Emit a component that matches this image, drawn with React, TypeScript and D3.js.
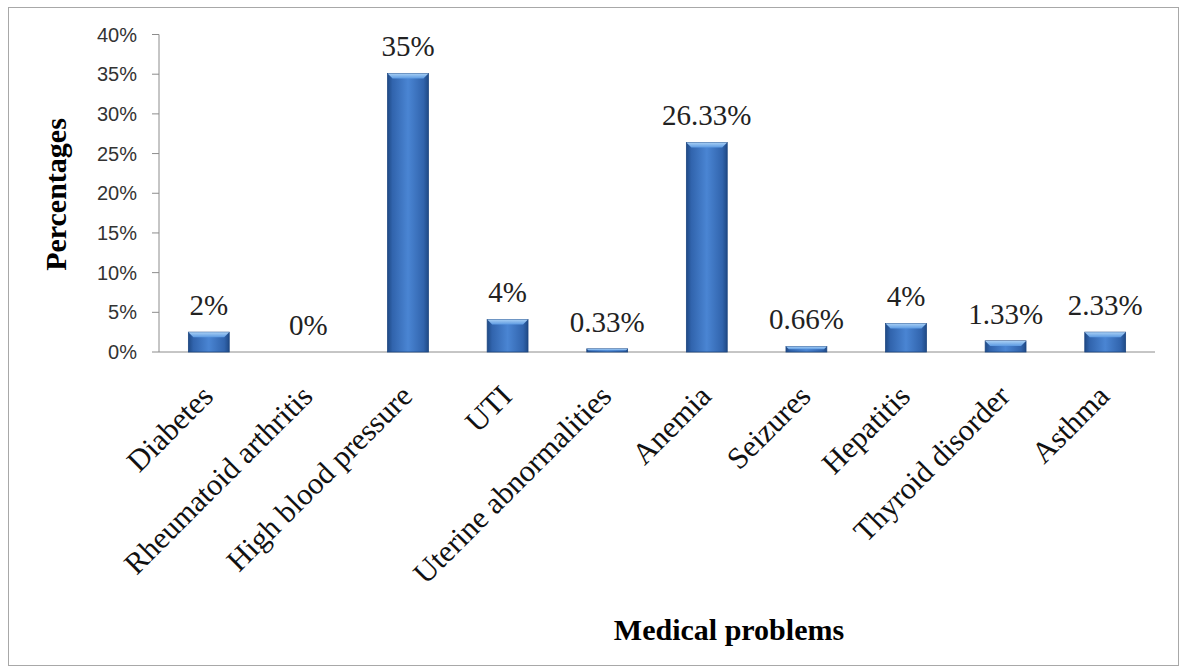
import React from "react";
import * as d3 from "d3";

const categories = [
  "Diabetes",
  "Rheumatoid arthritis",
  "High blood pressure",
  "UTI",
  "Uterine abnormalities",
  "Anemia",
  "Seizures",
  "Hepatitis",
  "Thyroid disorder",
  "Asthma",
];
// bar heights as drawn (fractions)
const barValues = [0.025, 0, 0.351, 0.041, 0.004, 0.264, 0.007, 0.036, 0.014, 0.025];
// data labels as printed
const valueLabels = ["2%", "0%", "35%", "4%", "0.33%", "26.33%", "0.66%", "4%", "1.33%", "2.33%"];
const yTicks = [0, 0.05, 0.1, 0.15, 0.2, 0.25, 0.3, 0.35, 0.4];

const W = 1181;
const H = 667;
const plotLeft = 159;
const plotRight = 1155;
const plotTop = 34.5;
const plotBottom = 352;

export default function App() {
  const x = d3
    .scaleBand<string>()
    .domain(categories)
    .range([plotLeft, plotRight])
    .paddingInner(0.59)
    .paddingOuter(0.295);
  const y = d3.scaleLinear().domain([0, 0.4]).range([plotBottom, plotTop]);
  const fmt = d3.format(".0%");
  const serif = "'Liberation Serif', 'Times New Roman', serif";
  const sans = "'Liberation Sans', Arial, sans-serif";

  return (
    <svg
      width={W}
      height={H}
      style={{ position: "absolute", left: 0, top: 0, background: "#fff" }}
    >
      <defs>
        <linearGradient id="barGrad" x1="0" x2="1" y1="0" y2="0">
          <stop offset="0%" stopColor="#1f4a86" />
          <stop offset="12%" stopColor="#3164ad" />
          <stop offset="50%" stopColor="#4a85d3" />
          <stop offset="88%" stopColor="#3164ad" />
          <stop offset="100%" stopColor="#1f4a86" />
        </linearGradient>
        <linearGradient id="bevelGrad" x1="0" x2="0" y1="0" y2="1">
          <stop offset="0%" stopColor="#a9d0f5" />
          <stop offset="100%" stopColor="#5e9be2" />
        </linearGradient>
      </defs>
      <rect x={8.5} y={7.5} width={1170} height={658} fill="#fff" stroke="#a8a8a8" strokeWidth={1} />

      {/* y axis */}
      <line x1={plotLeft} x2={plotLeft} y1={y(0.4)} y2={plotBottom} stroke="#8c8c8c" strokeWidth={1} />
      {yTicks.map((t) => (
        <g key={t}>
          <line x1={plotLeft - 7} x2={plotLeft} y1={y(t)} y2={y(t)} stroke="#8c8c8c" strokeWidth={1} />
          <text
            x={137}
            y={y(t) + 7}
            textAnchor="end"
            fontFamily={sans}
            fontSize={20}
            fill="#333"
          >
            {fmt(t)}
          </text>
        </g>
      ))}
      {/* x axis */}
      <line x1={plotLeft} x2={plotRight} y1={plotBottom} y2={plotBottom} stroke="#8c8c8c" strokeWidth={1} />

      {/* bars */}
      {categories.map((c, i) => {
        const x0 = x(c)!;
        const bw = x.bandwidth();
        const yt = y(barValues[i]);
        const h = plotBottom - yt;
        if (h <= 0) return null;
        const b = Math.min(5, h / 2);
        return (
          <g key={c}>
            <rect x={x0} y={yt} width={bw} height={h} fill="url(#barGrad)" stroke="#1d4680" strokeWidth={0.8} />
            <polygon
              points={`${x0},${yt} ${x0 + bw},${yt} ${x0 + bw - b},${yt + b} ${x0 + b},${yt + b}`}
              fill="url(#bevelGrad)"
            />
          </g>
        );
      })}

      {/* value labels */}
      {categories.map((c, i) => (
        <text
          key={c}
          x={x(c)! + x.bandwidth() / 2}
          y={y(barValues[i]) - 17}
          textAnchor="middle"
          fontFamily={serif}
          fontSize={29}
          fill="#222"
        >
          {valueLabels[i]}
        </text>
      ))}

      {/* category labels */}
      {categories.map((c) => (
        <text
          key={c}
          transform={`translate(${x(c)! + x.bandwidth() / 2 + 6},${398}) rotate(-45)`}
          textAnchor="end"
          fontFamily={serif}
          fontSize={30.5}
          fill="#111"
        >
          {c}
        </text>
      ))}

      {/* axis titles */}
      <text
        transform={`translate(66,194.5) rotate(-90)`}
        textAnchor="middle"
        fontFamily={serif}
        fontWeight="bold"
        fontSize={30}
        fill="#000"
      >
        Percentages
      </text>
      <text
        x={729}
        y={640}
        textAnchor="middle"
        fontFamily={serif}
        fontWeight="bold"
        fontSize={30}
        fill="#000"
      >
        Medical problems
      </text>
    </svg>
  );
}
